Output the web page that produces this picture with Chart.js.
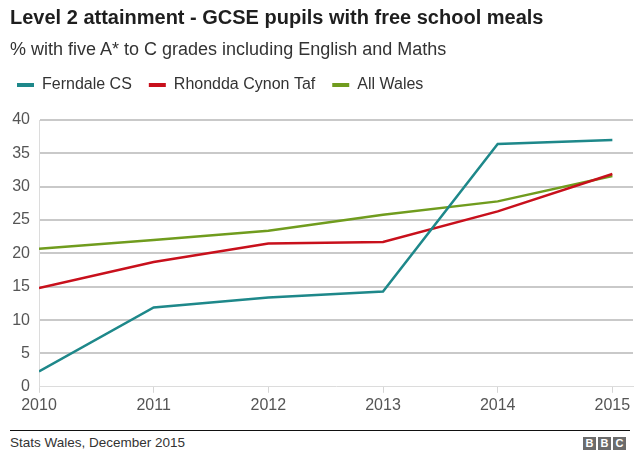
<!DOCTYPE html>
<html>
<head>
<meta charset="utf-8">
<script src="https://cdn.jsdelivr.net/npm/chart.js@4"></script>
<style>
  body { margin: 0; background: #fff; font-family: "Liberation Sans", Arial, sans-serif; }
  #wrap { position: relative; width: 640px; height: 463px; overflow: hidden; }
  #chart-box { position: absolute; left: 0; top: 0; width: 640px; height: 420px; }
  .title { position: absolute; left: 10px; top: 5px; font-size: 20px; line-height: 24px; font-weight: bold; color: #1e1e1e; white-space: nowrap; }
  .subtitle { position: absolute; left: 10px; top: 38px; font-size: 18px; line-height: 22px; color: #333; white-space: nowrap; }
  .rule { position: absolute; left: 10px; top: 430px; width: 620px; height: 0; border-top: 1px solid #111; }
  .source { position: absolute; left: 10px; top: 435px; font-size: 13.5px; line-height: 16px; color: #333; }
  .bbc { position: absolute; left: 583px; top: 437px; display: flex; gap: 2px; }
  .bbc span { width: 13px; height: 13px; background: #6b6b6b; color: #fff; font-size: 11px; font-weight: bold; line-height: 13px; text-align: center; }
</style>
</head>
<body>
<div id="wrap">
  <div id="chart-box"><canvas id="line-chart"></canvas></div>
  <div class="title">Level 2 attainment - GCSE pupils with free school meals</div>
  <div class="subtitle">% with five A* to C grades including English and Maths</div>
  <div class="rule"></div>
  <div class="source">Stats Wales, December 2015</div>
  <div class="bbc"><span>B</span><span>B</span><span>C</span></div>
</div>
<script>
// data
const years = [2010, 2011, 2012, 2013, 2014, 2015];
const ferndale = [2.3, 11.9, 13.4, 14.3, 36.4, 37.0];
const rhondda = [14.8, 18.7, 21.5, 21.7, 26.3, 31.9];
const allWales = [20.7, 22.0, 23.4, 25.8, 27.8, 31.6];
const yTicks = [0, 5, 10, 15, 20, 25, 30, 35, 40];

const toPoints = (vals) => vals.map((v, i) => ({x: years[i], y: v}));

const makeLine = (label, vals, color) => ({
  label: label,
  data: toPoints(vals),
  borderColor: color,
  backgroundColor: color,
  borderWidth: 2.5,
  pointRadius: 0,
  tension: 0
});

const fontFam = '"Liberation Sans", Arial, sans-serif';
const ctx = document.getElementById("line-chart");

new Chart(ctx, {
  type: 'line',
  data: {
    datasets: [
      makeLine('Ferndale CS', ferndale, 'rgb(30, 136, 138)'),
      makeLine('Rhondda Cynon Taf', rhondda, 'rgb(200, 16, 28)'),
      makeLine('All Wales', allWales, 'rgb(112, 156, 30)')
    ]
  },
  options: {
    responsive: true,
    maintainAspectRatio: false,
    animation: false,
    layout: { padding: { top: 60, right: 7, bottom: 2, left: 0 } },
    plugins: {
      title: { display: false },
      tooltip: { enabled: false },
      legend: {
        display: true,
        position: 'top',
        align: 'start',
        labels: {
          boxWidth: 17,
          boxHeight: 4,
          padding: 17,
          color: '#333',
          font: { family: fontFam, size: 16 },
          generateLabels: (chart) => {
            const items = Chart.defaults.plugins.legend.labels.generateLabels(chart);
            items.forEach(it => { it.lineWidth = 0; });
            return items;
          }
        }
      }
    },
    scales: {
      x: {
        type: 'linear',
        min: years[0],
        max: 2015.18,
        afterBuildTicks: (scale) => { scale.ticks = years.map(v => ({value: v})); },
        grid: { drawOnChartArea: false, drawTicks: true, tickLength: 6, color: '#d6d6d6' },
        border: { display: true, color: '#dcdcdc', width: 1 },
        ticks: {
          autoSkip: false,
          maxRotation: 0,
          padding: 3,
          color: '#555',
          font: { family: fontFam, size: 16 },
          callback: (v) => String(v)
        }
      },
      // empty spacer between legend and plot
      gap: {
        type: 'linear',
        position: 'top',
        display: true,
        grid: { display: false },
        border: { display: false },
        ticks: { display: false },
        afterFit: (scale) => { scale.height = 17; }
      },
      y: {
        min: 0,
        max: 40,
        afterBuildTicks: (scale) => { scale.ticks = yTicks.map(v => ({value: v})); },
        afterFit: (scale) => { scale.width = 39; },
        grid: {
          drawTicks: false,
          lineWidth: 2,
          color: (c) => c.tick && c.tick.value === 0 ? 'rgba(0,0,0,0)' : '#c9c9c9'
        },
        border: { display: true, color: '#dcdcdc', width: 1 },
        ticks: {
          padding: 9,
          color: '#555',
          font: { family: fontFam, size: 16 }
        }
      }
    }
  }
});
</script>
</body>
</html>
